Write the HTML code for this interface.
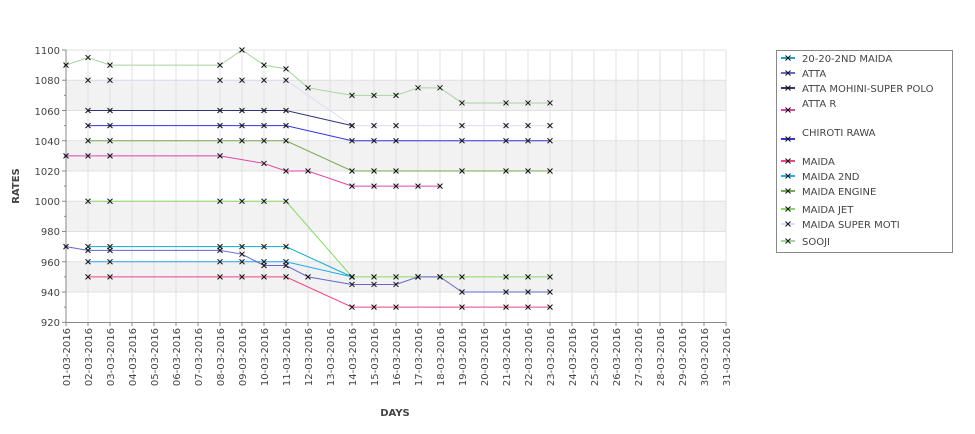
<!DOCTYPE html>
<html><head><meta charset="utf-8"><style>
body{margin:0;background:#fff;}
svg text{font-family:"DejaVu Sans","Liberation Sans",sans-serif;fill:#444;}
</style></head><body>
<svg id="c" width="975" height="429" xmlns="http://www.w3.org/2000/svg">
<g id="bands"></g>
<g id="grid"></g>
<line x1="66" y1="50" x2="66" y2="322.5" stroke="#888"/>
<line x1="66" y1="322.5" x2="726" y2="322.5" stroke="#888"/>
<g font-size="10" text-anchor="end">
<text x="60" y="54">1100</text><text x="60" y="84">1080</text><text x="60" y="115">1060</text>
<text x="60" y="145">1040</text><text x="60" y="175">1020</text><text x="60" y="205">1000</text>
<text x="60" y="235">980</text><text x="60" y="266">960</text><text x="60" y="296">940</text>
<text x="60" y="326">920</text>
</g>
<g font-size="10" text-anchor="end" id="xl">
<text transform="translate(70,328) rotate(-90)">01-03-2016</text>
<text transform="translate(92,328) rotate(-90)">02-03-2016</text>
<text transform="translate(114,328) rotate(-90)">03-03-2016</text>
<text transform="translate(136,328) rotate(-90)">04-03-2016</text>
<text transform="translate(158,328) rotate(-90)">05-03-2016</text>
<text transform="translate(180,328) rotate(-90)">06-03-2016</text>
<text transform="translate(202,328) rotate(-90)">07-03-2016</text>
<text transform="translate(224,328) rotate(-90)">08-03-2016</text>
<text transform="translate(246,328) rotate(-90)">09-03-2016</text>
<text transform="translate(268,328) rotate(-90)">10-03-2016</text>
<text transform="translate(290,328) rotate(-90)">11-03-2016</text>
<text transform="translate(312,328) rotate(-90)">12-03-2016</text>
<text transform="translate(334,328) rotate(-90)">13-03-2016</text>
<text transform="translate(356,328) rotate(-90)">14-03-2016</text>
<text transform="translate(378,328) rotate(-90)">15-03-2016</text>
<text transform="translate(400,328) rotate(-90)">16-03-2016</text>
<text transform="translate(422,328) rotate(-90)">17-03-2016</text>
<text transform="translate(444,328) rotate(-90)">18-03-2016</text>
<text transform="translate(466,328) rotate(-90)">19-03-2016</text>
<text transform="translate(488,328) rotate(-90)">20-03-2016</text>
<text transform="translate(510,328) rotate(-90)">21-03-2016</text>
<text transform="translate(532,328) rotate(-90)">22-03-2016</text>
<text transform="translate(554,328) rotate(-90)">23-03-2016</text>
<text transform="translate(576,328) rotate(-90)">24-03-2016</text>
<text transform="translate(598,328) rotate(-90)">25-03-2016</text>
<text transform="translate(620,328) rotate(-90)">26-03-2016</text>
<text transform="translate(642,328) rotate(-90)">27-03-2016</text>
<text transform="translate(664,328) rotate(-90)">28-03-2016</text>
<text transform="translate(686,328) rotate(-90)">29-03-2016</text>
<text transform="translate(708,328) rotate(-90)">30-03-2016</text>
<text transform="translate(730,328) rotate(-90)">31-03-2016</text>
</g>
<text x="395" y="416" font-size="10" font-weight="bold" text-anchor="middle">DAYS</text>
<text transform="translate(19,186) rotate(-90)" font-size="10" font-weight="bold" text-anchor="middle">RATES</text>
<g id="series"></g>
<rect x="776.5" y="50.5" width="176" height="202" fill="#fff" stroke="#888"/>
<g id="lsym"></g>
<g font-size="10">
<text x="802" y="62" fill="#222">20-20-2ND MAIDA</text>
<text x="802" y="77" fill="#222">ATTA</text>
<text x="802" y="92" fill="#222">ATTA MOHINI-SUPER POLO</text>
<text x="802" y="107" fill="#222">ATTA R</text>
<text x="802" y="136" fill="#222">CHIROTI RAWA</text>
<text x="802" y="165" fill="#222">MAIDA</text>
<text x="802" y="180" fill="#222">MAIDA 2ND</text>
<text x="802" y="195" fill="#222">MAIDA ENGINE</text>
<text x="802" y="213" fill="#222">MAIDA JET</text>
<text x="802" y="228" fill="#222">MAIDA SUPER MOTI</text>
<text x="802" y="245" fill="#222">SOOJI</text>
</g>
</svg>
<script>
var NS="http://www.w3.org/2000/svg";
function X(d){return 66+(d-1)*22;}
function Y(v){return 50+(1100-v)*1.5125;}
function el(p,t,a){var e=document.createElementNS(NS,t);for(var k in a)e.setAttribute(k,a[k]);document.getElementById(p).appendChild(e);return e;}
[[1080,1060],[1040,1020],[1000,980],[960,940]].forEach(function(b){el("bands","rect",{x:66,y:Y(b[0]),width:660,height:Y(b[1])-Y(b[0]),fill:"#f2f2f2"});});
for(var v=1100;v>=940;v-=20)el("grid","line",{x1:66,x2:726,y1:Y(v),y2:Y(v),stroke:"#e0e0e0"});
for(var d=2;d<=31;d++)el("grid","line",{x1:X(d),x2:X(d),y1:50,y2:322,stroke:"#e0e0e0"});
for(var v=1100;v>=920;v-=20){el("grid","line",{x1:62,x2:66,y1:Y(v),y2:Y(v),stroke:"#888"});}
for(var v=1090;v>920;v-=20){el("grid","line",{x1:64,x2:66,y1:Y(v),y2:Y(v),stroke:"#888"});}
for(var d=1;d<=31;d++)el("grid","line",{x1:X(d),x2:X(d),y1:322,y2:326,stroke:"#888"});
var S=[
["#a8d4a0",[[1,1090],[2,1095],[3,1090],[8,1090],[9,1100],[10,1090],[11,1087.5],[12,1075],[14,1070],[15,1070],[16,1070],[17,1075],[18,1075],[19,1065],[21,1065],[22,1065],[23,1065]]],
["#dcdcf8",[[2,1080],[3,1080],[8,1080],[9,1080],[10,1080],[11,1080],[14,1050],[15,1050],[16,1050],[19,1050],[21,1050],[22,1050],[23,1050]]],
["#333377",[[2,1060],[3,1060],[8,1060],[9,1060],[10,1060],[11,1060],[14,1050]]],
["#3333dd",[[2,1050],[3,1050],[8,1050],[9,1050],[10,1050],[11,1050],[14,1040],[15,1040],[16,1040],[19,1040],[21,1040],[22,1040],[23,1040]]],
["#77aa55",[[2,1040],[3,1040],[8,1040],[9,1040],[10,1040],[11,1040],[14,1020],[15,1020],[16,1020],[19,1020],[21,1020],[22,1020],[23,1020]]],
["#dd44aa",[[1,1030],[2,1030],[3,1030],[8,1030],[10,1025],[11,1020],[12,1020],[14,1010],[15,1010],[16,1010],[17,1010],[18,1010]]],
["#88d866",[[2,1000],[3,1000],[8,1000],[9,1000],[10,1000],[11,1000],[14,950],[15,950],[16,950],[17,950],[18,950],[19,950],[21,950],[22,950],[23,950]]],
["#11aacc",[[2,970],[3,970],[8,970],[9,970],[10,970],[11,970],[14,950]]],
["#22aaee",[[2,960],[3,960],[8,960],[9,960],[10,960],[11,960],[14,950]]],
["#6666cc",[[1,970],[2,967.5],[3,967.5],[8,967.5],[9,965],[10,957.5],[11,957.5],[12,950],[14,945],[15,945],[16,945],[17,950],[18,950],[19,940],[21,940],[22,940],[23,940]]],
["#ee4488",[[2,950],[3,950],[8,950],[9,950],[10,950],[11,950],[14,930],[15,930],[16,930],[19,930],[21,930],[22,930],[23,930]]]
];
function mk(g,x,y){el(g,"path",{d:"M"+(x-2.5)+","+(y-2.5)+"L"+(x+2.5)+","+(y+2.5)+"M"+(x+2.5)+","+(y-2.5)+"L"+(x-2.5)+","+(y+2.5),stroke:"#111","stroke-width":1});}
S.forEach(function(s){el("series","polyline",{points:s[1].map(function(p){return X(p[0])+","+Y(p[1]);}).join(" "),fill:"none",stroke:s[0],"stroke-width":1});});
S.forEach(function(s){s[1].forEach(function(p){mk("series",X(p[0]),Y(p[1]));});});
var L=[["#11aacc",58],["#6666cc",73],["#333377",88],["#dd44aa",110],["#3333dd",139],["#ee4488",161],["#22aaee",176],["#77aa55",191],["#88d866",209],["#dcdcf8",224],["#a8d4a0",241]];
L.forEach(function(l){el("lsym","line",{x1:781,x2:795,y1:l[1],y2:l[1],stroke:l[0],"stroke-width":2});mk("lsym",788,l[1]);});
</script>
</body></html>
